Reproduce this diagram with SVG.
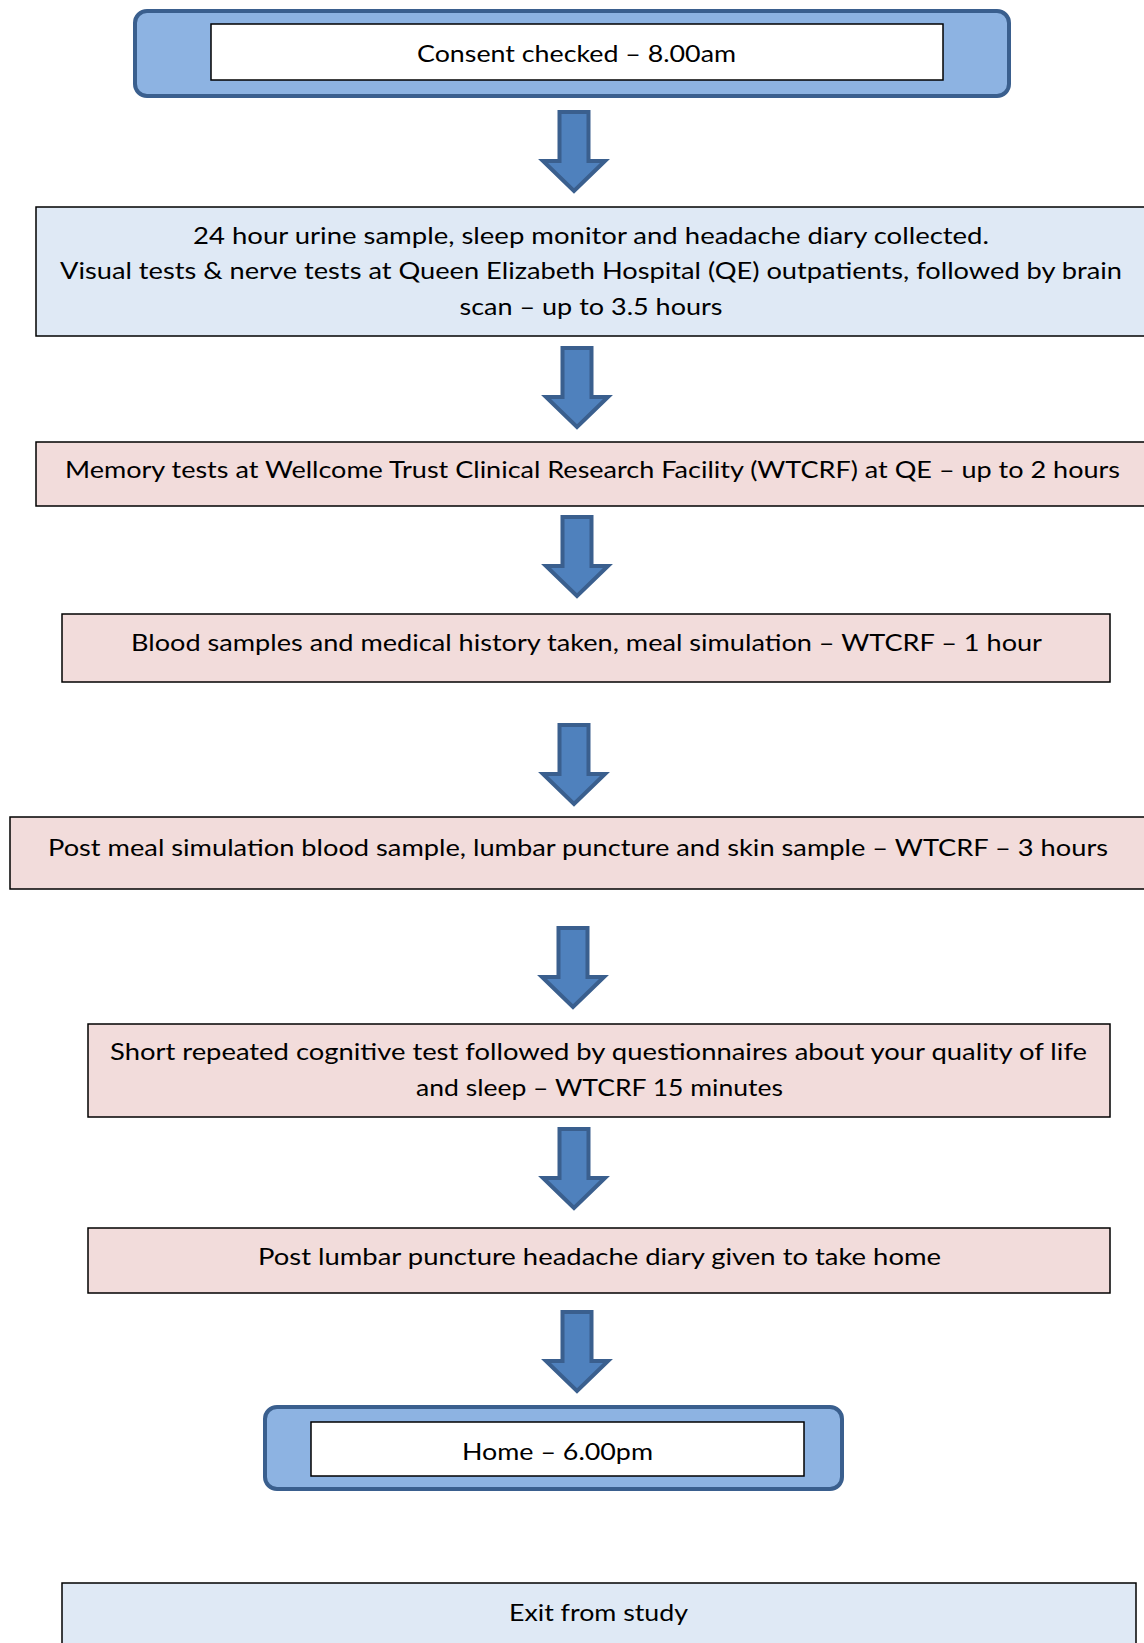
<svg xmlns="http://www.w3.org/2000/svg" xmlns:xlink="http://www.w3.org/1999/xlink" width="1144" height="1643" viewBox="0 0 1144 1643">
<style>
.t{font-family:Lato,"Open Sans","Liberation Sans",sans-serif;font-size:24px;fill:#000;text-anchor:middle}
.outer{fill:#8DB3E2;stroke:#3A5F8E;stroke-width:4}
.inner{fill:#fff;stroke:#000;stroke-width:1.5}
.blue{fill:#DFE9F5;stroke:#000;stroke-width:1.5}
.pink{fill:#F2DCDB;stroke:#000;stroke-width:1.5}
.arrow{fill:#4F81BD;stroke:#3A5F8E;stroke-width:4;stroke-linejoin:miter}
</style>
<defs>
<path id="arr" d="M -14.5,2 H 14.5 V 51 H 31 L 0,81 L -31,51 H -14.5 Z"/>
</defs>
<rect width="1144" height="1643" fill="#fff"/>
<g id="n1">
<rect class="outer" x="135" y="11" width="874" height="85" rx="12"/>
<rect class="inner" x="211" y="24" width="732" height="56"/>
<text class="t" x="576.5" y="62" textLength="319" lengthAdjust="spacingAndGlyphs">Consent checked – 8.00am</text>
</g>
<g id="n2">
<rect class="blue" x="36" y="207" width="1112" height="129"/>
<text class="t" x="591" y="244" textLength="796" lengthAdjust="spacingAndGlyphs">24 hour urine sample, sleep monitor and headache diary collected.</text>
<text class="t" x="591" y="279" textLength="1062" lengthAdjust="spacingAndGlyphs">Visual tests &amp; nerve tests at Queen Elizabeth Hospital (QE) outpatients, followed by brain</text>
<text class="t" x="591" y="315" textLength="263" lengthAdjust="spacingAndGlyphs">scan – up to 3.5 hours</text>
</g>
<g id="n3">
<rect class="pink" x="36" y="442" width="1112" height="64"/>
<text class="t" x="592.5" y="478" textLength="1055" lengthAdjust="spacingAndGlyphs">Memory tests at Wellcome Trust Clinical Research Facility (WTCRF) at QE – up to 2 hours</text>
</g>
<g id="n4">
<rect class="pink" x="62" y="614" width="1048" height="68"/>
<text class="t" x="586.5" y="651" textLength="911" lengthAdjust="spacingAndGlyphs">Blood samples and medical history taken, meal simulation – WTCRF – 1 hour</text>
</g>
<g id="n5">
<rect class="pink" x="10" y="817" width="1140" height="72"/>
<text class="t" x="578" y="856" textLength="1060" lengthAdjust="spacingAndGlyphs">Post meal simulation blood sample, lumbar puncture and skin sample – WTCRF – 3 hours</text>
</g>
<g id="n6">
<rect class="pink" x="88" y="1024" width="1022" height="93"/>
<text class="t" x="598.5" y="1060" textLength="977" lengthAdjust="spacingAndGlyphs">Short repeated cognitive test followed by questionnaires about your quality of life</text>
<text class="t" x="599.5" y="1096" textLength="367" lengthAdjust="spacingAndGlyphs">and sleep – WTCRF 15 minutes</text>
</g>
<g id="n7">
<rect class="pink" x="88" y="1228" width="1022" height="65"/>
<text class="t" x="599.5" y="1265" textLength="683" lengthAdjust="spacingAndGlyphs">Post lumbar puncture headache diary given to take home</text>
</g>
<g id="n8">
<rect class="outer" x="265" y="1407" width="577" height="82" rx="12"/>
<rect class="inner" x="311" y="1422" width="493" height="54"/>
<text class="t" x="557.5" y="1460" textLength="191" lengthAdjust="spacingAndGlyphs">Home – 6.00pm</text>
</g>
<g id="n9">
<rect class="blue" x="62" y="1583" width="1074" height="80"/>
<text class="t" x="598.5" y="1621" textLength="179" lengthAdjust="spacingAndGlyphs">Exit from study</text>
</g>
<g id="connectors">
<use xlink:href="#arr" class="arrow" transform="translate(574,110)"/>
<use xlink:href="#arr" class="arrow" transform="translate(577,346)"/>
<use xlink:href="#arr" class="arrow" transform="translate(577,515)"/>
<use xlink:href="#arr" class="arrow" transform="translate(574,723)"/>
<use xlink:href="#arr" class="arrow" transform="translate(573,926)"/>
<use xlink:href="#arr" class="arrow" transform="translate(574,1127)"/>
<use xlink:href="#arr" class="arrow" transform="translate(577,1310)"/>
</g>
</svg>
